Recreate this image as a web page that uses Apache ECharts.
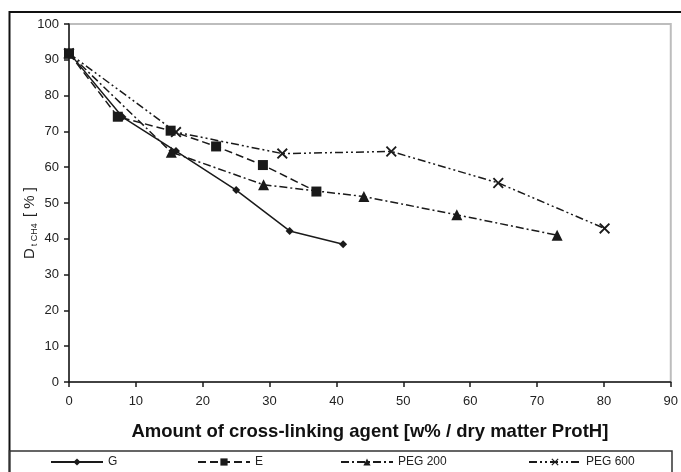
<!DOCTYPE html>
<html>
<head>
<meta charset="utf-8">
<script src="https://cdn.jsdelivr.net/npm/echarts@6/dist/echarts.min.js"></script>
<style>
html,body{margin:0;padding:0;background:#fff;}
#chart{width:681px;height:472px;}
</style>
</head>
<body>
<div id="chart"></div>
<script>
// Amount of cross-linking agent (x) and D_t,CH4 (y) per agent
const gX = [0, 8, 16, 25, 33, 41];
const gY = [92, 74, 64.5, 53.6, 42.2, 38.5];
const eX = [0, 7.3, 15.2, 22, 29, 37];
const eY = [91.8, 74.1, 70.2, 65.8, 60.6, 53.2];
const peg200X = [0, 15.3, 29.1, 44.1, 58, 73];
const peg200Y = [91.8, 64.2, 55.1, 51.8, 46.7, 41];
const peg600X = [0, 16, 31.9, 48.2, 64.2, 80.1];
const peg600Y = [91.8, 69.8, 63.8, 64.4, 55.6, 42.9];

const seriesNames = ['G', 'E', 'PEG 200', 'PEG 600'];
const xTicks = [0, 10, 20, 30, 40, 50, 60, 70, 80, 90];
const yTicks = [0, 10, 20, 30, 40, 50, 60, 70, 80, 90, 100];

const pairs = (xs, ys) => xs.map((x, i) => [x, ys[i]]);

const crossPath = 'path://M0,1.2 L1.2,0 L5,3.8 L8.8,0 L10,1.2 L6.2,5 L10,8.8 L8.8,10 L5,6.2 L1.2,10 L0,8.8 L3.8,5 Z';
const ink = '#1a1a1a';
const font = 'Liberation Sans, Arial, sans-serif';

const styles = [
  { symbol: 'diamond', size: 8, dash: 'solid' },
  { symbol: 'rect', size: 10, dash: [8, 4] },
  { symbol: 'triangle', size: 11, dash: [8, 3, 2, 3] },
  { symbol: crossPath, size: 11, dash: [8, 3, 2, 3, 2, 3] }
];
const data = [pairs(gX, gY), pairs(eX, eY), pairs(peg200X, peg200Y), pairs(peg600X, peg600Y)];

const series = seriesNames.map((name, i) => ({
  name: name,
  type: 'line',
  data: data[i],
  symbol: styles[i].symbol,
  symbolSize: styles[i].size,
  showAllSymbol: true,
  lineStyle: { color: ink, width: 1.5, type: styles[i].dash },
  itemStyle: { color: ink },
  z: 10 - i,
  animation: false
}));

const legendLeft = [50, 197, 340, 528];
const legends = seriesNames.map((name, i) => ({
  data: [name],
  left: legendLeft[i],
  top: 456,
  padding: 0,
  itemWidth: 52,
  itemHeight: 9,
  selectedMode: false,
  textStyle: { fontFamily: font, fontSize: 12, color: '#222' }
}));

const chart = echarts.init(document.getElementById('chart'), null, { renderer: 'canvas' });
chart.setOption({
  backgroundColor: '#fff',
  animation: false,
  grid: {
    left: 69, right: 8, top: 24, bottom: 90,
    show: true, borderColor: '#bdbdbd', borderWidth: 2, backgroundColor: 'transparent'
  },
  xAxis: {
    type: 'value', min: xTicks[0], max: xTicks[xTicks.length - 1], interval: 10,
    axisLine: { show: true, lineStyle: { color: ink, width: 1.5 } },
    axisTick: { show: true, inside: false, length: 5, lineStyle: { color: ink, width: 1.5 } },
    axisLabel: { fontFamily: font, fontSize: 13, color: '#222', margin: 13 },
    splitLine: { show: false },
    name: 'Amount of cross-linking agent [w% / dry matter ProtH]',
    nameLocation: 'middle', nameGap: 40,
    nameTextStyle: { fontFamily: font, fontSize: 18.5, fontWeight: 'bold', color: '#111' }
  },
  yAxis: {
    type: 'value', min: yTicks[0], max: yTicks[yTicks.length - 1], interval: 10,
    axisLine: { show: true, lineStyle: { color: ink, width: 1.5 } },
    axisTick: { show: true, inside: false, length: 5, lineStyle: { color: ink, width: 1.5 } },
    axisLabel: { fontFamily: font, fontSize: 13, color: '#222', margin: 10 },
    splitLine: { show: false }
  },
  legend: legends,
  graphic: [
    { type: 'rect', shape: { x: 9.5, y: 12, width: 700, height: 500 }, style: { fill: 'none', stroke: '#111', lineWidth: 2 }, silent: true, z: 0 },
    { type: 'rect', shape: { x: 9.5, y: 451, width: 662.5, height: 60 }, style: { fill: 'none', stroke: '#333', lineWidth: 1.5 }, silent: true, z: 0 },
    {
      type: 'text', x: 30, y: 223, rotation: Math.PI / 2, silent: true, z: 5,
      style: {
        text: '{d|D}{s|t CH4}{d| [ % ]}',
        align: 'center', verticalAlign: 'middle',
        font: '15px ' + font, fill: '#222',
        rich: {
          d: { fontFamily: font, fontSize: 15, fill: '#222', lineHeight: 18, verticalAlign: 'middle' },
          s: { fontFamily: font, fontSize: 9, fill: '#222', lineHeight: 9, verticalAlign: 'bottom', padding: [0, 2, 0, 2] }
        }
      }
    }
  ],
  series: series
});
</script>
</body>
</html>
